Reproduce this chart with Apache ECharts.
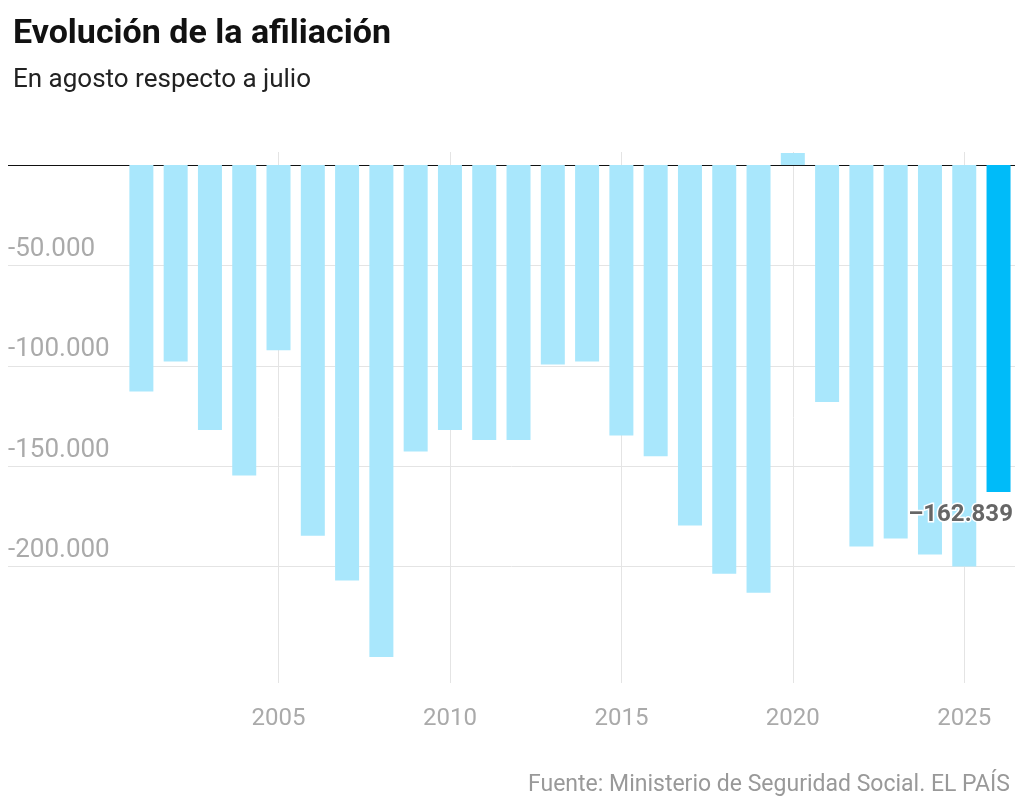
<!DOCTYPE html>
<html>
<head>
<meta charset="UTF-8">
<script src="https://cdn.jsdelivr.net/npm/echarts@6/dist/echarts.min.js"></script>
<style>body{margin:0;background:#fff}#box{width:1024px;height:809px}</style>
</head>
<body>
<div id="box"></div>
<script>
var years = [2001,2002,2003,2004,2005,2006,2007,2008,2009,2010,2011,2012,2013,
             2014,2015,2016,2017,2018,2019,2020,2021,2022,2023,2024,2025,2026]
var values = [-112800,-97800,-132000,-154700,-92300,-184600,-207000,-245000,-142700,
              -132000,-137000,-137000,-99300,-97800,-134700,-145000,-179600,-203600,
              -213000,6000,-118000,-190000,-186000,-194000,-200000,-162839]
var xTicks = [2005,2010,2015,2020,2025]
var yTicks = [-50000,-100000,-150000,-200000]

function fmt(v) {
  return (v < 0 ? '-' : '') + Math.abs(v).toString().replace(/\B(?=(\d{3})+(?!\d))/g, '.')
}

var chart = echarts.init(document.getElementById('box'))
var last = years.length - 1

chart.setOption({
  animation: false,
  title: [
    { text: 'Evolución de la afiliación', left: 8, top: 12,
      textStyle: { fontFamily: 'Roboto', fontSize: 34, fontWeight: 'bold', color: '#111' } },
    { text: 'En agosto respecto a julio', left: 8, top: 62,
      textStyle: { fontFamily: 'Roboto', fontSize: 26, fontWeight: 'normal', color: '#222' } },
    { text: 'Fuente: Ministerio de Seguridad Social. EL PAÍS', right: 9, top: 769,
      textStyle: { fontFamily: 'Roboto', fontSize: 23, fontWeight: 'normal', color: '#999' } }
  ],
  grid: { left: 8, right: 9, top: 152, bottom: 126 },
  xAxis: {
    type: 'value', min: 1997.11, max: 2026.48,
    axisLine: { show: false }, axisTick: { show: false }, splitLine: { show: false },
    axisLabel: { customValues: xTicks, margin: 24, color: '#aaa', fontSize: 24, fontFamily: 'Roboto',
      formatter: function (v) { return String(v) } }
  },
  yAxis: {
    type: 'value', min: -258000, max: 6500,
    axisLine: { show: false }, axisTick: { show: false },
    axisLabel: { customValues: yTicks, inside: true, margin: 0, verticalAlign: 'bottom',
      padding: [0, 0, 3, 0],
      formatter: fmt, color: '#aaa', fontSize: 26, fontFamily: 'Roboto' },
    splitLine: { show: false }
  },
  series: [{
    type: 'bar',
    barWidth: 24,
    data: years.map(function (y, i) {
      var d = { value: [y, values[i]], itemStyle: { color: i === last ? '#00bbf9' : '#a9e7fc' } }
      if (i === last) {
        d.label = { show: true, position: 'bottom', offset: [-38, 6], formatter: '–' + fmt(-values[i]),
          fontSize: 24, fontWeight: 'bold', color: '#666', fontFamily: 'Roboto',
          textBorderColor: '#fff', textBorderWidth: 3 }
      }
      return d
    }),
    markLine: {
      silent: true, symbol: 'none', label: { show: false }, z: 0,
      data: xTicks.map(function (t) { return { xAxis: t, lineStyle: { color: '#e4e4e4', width: 1, type: 'solid' } } })
        .concat(yTicks.map(function (t) { return { yAxis: t, lineStyle: { color: '#e4e4e4', width: 1, type: 'solid' } } }))
        .concat([{ yAxis: 0, lineStyle: { color: '#111', width: 1, type: 'solid' } }])
    }
  }]
})
</script>
</body>
</html>
